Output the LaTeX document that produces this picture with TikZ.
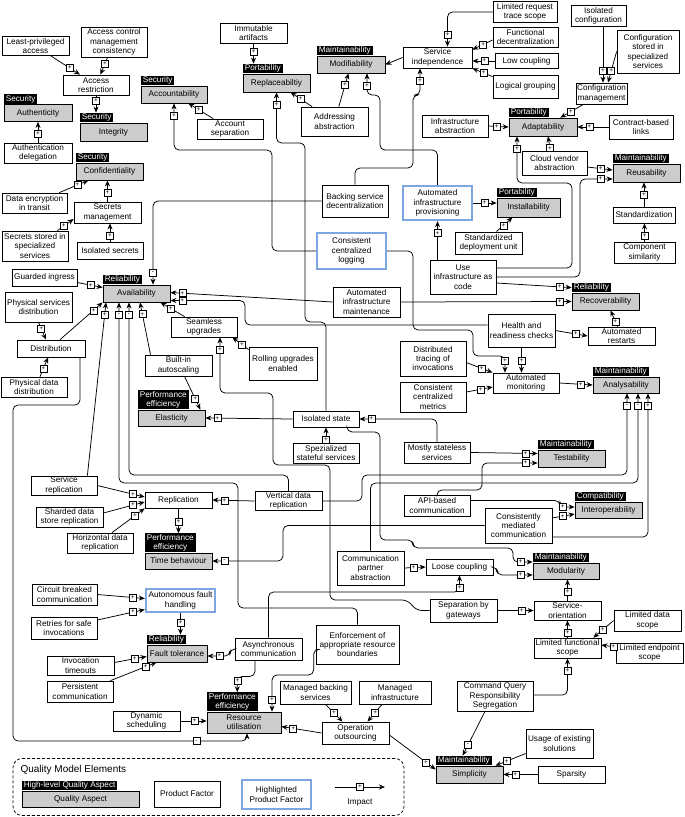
\documentclass[tikz,border=0pt]{standalone}
\usepackage{fontspec}
\setmainfont{Liberation Sans}
\usetikzlibrary{positioning,arrows.meta,decorations.markings}
\definecolor{qagray}{RGB}{204,204,204}
\definecolor{hlblue}{RGB}{126,166,224}

\begin{document}
\begin{tikzpicture}[x=1pt,y=-1pt,>=Stealth,font=\fontsize{8.2}{9.3}\selectfont,
  pf/.style={draw,fill=white,align=center,inner xsep=1pt,inner ysep=1pt,line width=0.75pt},
  hl/.style={pf,draw=hlblue,line width=2.4pt},
  qa/.style={draw,fill=qagray,align=center,inner xsep=1pt,inner ysep=1pt,line width=0.75pt},
  cat/.style={fill=black,text=white,align=center,inner xsep=2pt,inner ysep=1pt},
  imp/.style={draw,fill=white,solid,sharp corners,line width=0.5pt,inner sep=0pt,minimum size=7pt,font=\fontsize{6.5}{6.5}\selectfont},
  arr/.style={-{Stealth[length=6pt,width=5pt]},line width=0.75pt,rounded corners=5pt},
  plus/.style={arr,postaction={decorate,decoration={markings,mark=at position -#1 with {\node[imp]{+};}}}},
  plus/.default=12pt,
  minus/.style={arr,postaction={decorate,decoration={markings,mark=at position -#1 with {\node[imp]{-};}}}},
  minus/.default=12pt]
  \useasboundingbox (0,0) rectangle (685,817);

  % quality aspects
  \node[qa,minimum width=68pt,minimum height=17pt] (authent) at (38,113) {Authenticity};
  \node[cat,above right=0pt and 0pt of authent.north west] (authentc) {Security};
  \node[qa,minimum width=67pt,minimum height=18pt] (integ) at (113.5,132) {Integrity};
  \node[cat,above right=0pt and 0pt of integ.north west] (integc) {Security};
  \node[qa,minimum width=67pt,minimum height=17pt] (confid) at (109.5,171.5) {Confidentiality};
  \node[cat,above right=0pt and 0pt of confid.north west] (confidc) {Security};
  \node[qa,minimum width=66pt,minimum height=17pt] (accnt) at (174,94.5) {Accountability};
  \node[cat,above right=0pt and 0pt of accnt.north west] (accntc) {Security};
  \node[qa,minimum width=67pt,minimum height=18pt] (replb) at (276.5,83) {Replaceabiltiy};
  \node[cat,above right=0pt and 0pt of replb.north west] (replbc) {Portability};
  \node[qa,minimum width=68pt,minimum height=17pt] (modif) at (351,64.5) {Modifiability};
  \node[cat,above right=0pt and 0pt of modif.north west] (modifc) {Maintainability};
  \node[qa,minimum width=68pt,minimum height=18pt] (adapt) at (543,127) {Adaptability};
  \node[cat,above right=0pt and 0pt of adapt.north west] (adaptc) {Portability};
  \node[qa,minimum width=67pt,minimum height=18pt] (reus) at (646.5,173) {Reusability};
  \node[cat,above right=0pt and 0pt of reus.north west] (reusc) {Maintainability};
  \node[qa,minimum width=63pt,minimum height=19pt] (install) at (528.5,207.5) {Installability};
  \node[cat,above right=0pt and 0pt of install.north west] (installc) {Portability};
  \node[qa,minimum width=67pt,minimum height=17pt] (avail) at (136.5,293.5) {Availability};
  \node[cat,above right=0pt and 0pt of avail.north west] (availc) {Reliability};
  \node[qa,minimum width=67pt,minimum height=17pt] (recov) at (605.5,301.5) {Recoverability};
  \node[cat,above right=0pt and 0pt of recov.north west] (recovc) {Reliability};
  \node[qa,minimum width=66pt,minimum height=16pt] (analys) at (626,385) {Analysability};
  \node[cat,above right=0pt and 0pt of analys.north west] (analysc) {Maintainability};
  \node[qa,minimum width=67pt,minimum height=16pt] (elast) at (171.5,418) {Elasticity};
  \node[cat,above right=0pt and 0pt of elast.north west] (elastc) {Performance\\efficiency};
  \node[qa,minimum width=67pt,minimum height=17pt] (testab) at (571.5,458.5) {Testability};
  \node[cat,above right=0pt and 0pt of testab.north west] (testabc) {Maintainability};
  \node[qa,minimum width=67pt,minimum height=16pt] (interop) at (608.5,510) {Interoperability};
  \node[cat,above right=0pt and 0pt of interop.north west] (interopc) {Compatibility};
  \node[qa,minimum width=67pt,minimum height=16pt] (timeb) at (178.5,561) {Time behaviour};
  \node[cat,above right=0pt and 0pt of timeb.north west] (timebc) {Performance\\efficiency};
  \node[qa,minimum width=66pt,minimum height=16pt] (modul) at (566,571) {Modularity};
  \node[cat,above right=0pt and 0pt of modul.north west] (modulc) {Maintainability};
  \node[qa,minimum width=60pt,minimum height=17pt] (faultt) at (177,653.5) {Fault tolerance};
  \node[cat,above right=0pt and 0pt of faultt.north west] (faulttc) {Reliability};
  \node[qa,minimum width=74pt,minimum height=21pt] (resutil) at (244,722.5) {Resource\\utilisation};
  \node[cat,above right=0pt and 0pt of resutil.north west] (resutilc) {Performance\\efficiency};
  \node[qa,minimum width=67pt,minimum height=17pt] (simpl) at (469.5,774.5) {Simplicity};
  \node[cat,above right=0pt and 0pt of simpl.north west] (simplc) {Maintainability};

  % product factors
  \node[pf,minimum width=67pt,minimum height=19pt] (lpa) at (35.5,46) {Least-privileged\\access};
  \node[pf,minimum width=66pt,minimum height=30pt] (acmc) at (114,42) {Access control\\management\\consistency};
  \node[pf,minimum width=66pt,minimum height=20pt] (ares) at (96,85) {Access\\restriction};
  \node[pf,minimum width=68pt,minimum height=20pt] (authd) at (38,153) {Authentication\\delegation};
  \node[pf,minimum width=65pt,minimum height=20pt] (dencr) at (34.5,203) {Data encryption\\in transit};
  \node[pf,minimum width=67pt,minimum height=21pt] (secm) at (107.5,212.5) {Secrets\\management};
  \node[pf,minimum width=66pt,minimum height=30pt] (secst) at (35,246) {Secrets stored in\\specialized\\services};
  \node[pf,minimum width=66pt,minimum height=17pt] (isosec) at (110,250.5) {Isolated secrets};
  \node[pf,minimum width=66pt,minimum height=20pt] (accsep) at (230,129) {Account\\separation};
  \node[pf,minimum width=67pt,minimum height=20pt] (immart) at (253.5,33) {Immutable\\artifacts};
  \node[pf,minimum width=67pt,minimum height=29pt] (addabs) at (334.5,121.5) {Addressing\\abstraction};
  \node[pf,minimum width=69pt,minimum height=21pt] (servind) at (437.5,57.5) {Service\\independence};
  \node[pf,minimum width=64pt,minimum height=21pt] (lrts) at (525,12) {Limited request\\trace scope};
  \node[pf,minimum width=65pt,minimum height=20pt] (fdec) at (525.5,37) {Functional\\decentralization};
  \node[pf,minimum width=63pt,minimum height=15pt] (lowc) at (526.5,61) {Low coupling};
  \node[pf,minimum width=65pt,minimum height=23pt] (lgrp) at (525.5,86.5) {Logical grouping};
  \node[pf,minimum width=55pt,minimum height=21pt] (isocfg) at (598.5,16) {Isolated\\configuration};
  \node[pf,minimum width=62pt,minimum height=43pt] (cfgst) at (648,51.5) {Configuration\\stored in\\specialized\\services};
  \node[pf,minimum width=51pt,minimum height=21pt] (cfgm) at (601.5,93.5) {Configuration\\management};
  \node[pf,minimum width=66pt,minimum height=22pt] (infabs) at (455,126) {Infrastructure\\abstraction};
  \node[pf,minimum width=64pt,minimum height=24pt] (cbl) at (641,127) {Contract-based\\links};
  \node[pf,minimum width=65pt,minimum height=24pt] (cva) at (554.5,163) {Cloud vendor\\abstraction};
  \node[pf,minimum width=66pt,minimum height=32pt] (bsd) at (355,201) {Backing service\\decentralization};
  \node[hl,minimum width=69pt,minimum height=34pt] (aip) at (437.5,203) {Automated\\infrastructure\\provisioning};
  \node[hl,minimum width=69pt,minimum height=36pt] (ccl) at (351.5,251) {Consistent\\centralized\\logging};
  \node[pf,minimum width=67pt,minimum height=22pt] (sdu) at (488.5,243) {Standardized\\deployment unit};
  \node[pf,minimum width=62pt,minimum height=16pt] (stdz) at (644,215) {Standardization};
  \node[pf,minimum width=61pt,minimum height=21pt] (compsim) at (644.5,252.5) {Component\\similarity};
  \node[pf,minimum width=66pt,minimum height=34pt] (uic) at (463,277) {Use\\infrastructure as\\code};
  \node[pf,minimum width=65pt,minimum height=17pt] (gi) at (44.5,277.5) {Guarded ingress};
  \node[pf,minimum width=67pt,minimum height=30pt] (psd) at (38.5,307) {Physical services\\distribution};
  \node[pf,minimum width=68pt,minimum height=17pt] (distr) at (51,348.5) {Distribution};
  \node[pf,minimum width=66pt,minimum height=20pt] (pdd) at (34,387) {Physical data\\distribution};
  \node[pf,minimum width=66pt,minimum height=20pt] (seamu) at (204,327) {Seamless\\upgrades};
  \node[pf,minimum width=67pt,minimum height=21pt] (biauto) at (178.5,365.5) {Built-in\\autoscaling};
  \node[pf,minimum width=68pt,minimum height=33pt] (rue) at (283,363.5) {Rolling upgrades\\enabled};
  \node[pf,minimum width=67pt,minimum height=30pt] (aim) at (366.5,302) {Automated\\infrastructure\\maintenance};
  \node[pf,minimum width=67pt,minimum height=33pt] (hrc) at (521.5,330.5) {Health and\\readiness checks};
  \node[pf,minimum width=67pt,minimum height=18pt] (arest) at (621.5,336) {Automated\\restarts};
  \node[pf,minimum width=66pt,minimum height=35pt] (dti) at (433,358.5) {Distributed\\tracing of\\invocations};
  \node[pf,minimum width=66pt,minimum height=30pt] (ccm) at (433,397) {Consistent\\centralized\\metrics};
  \node[pf,minimum width=66pt,minimum height=20pt] (amon) at (526,383) {Automated\\monitoring};
  \node[pf,minimum width=66pt,minimum height=16pt] (isost) at (326,419) {Isolated state};
  \node[pf,minimum width=66pt,minimum height=20pt] (sss) at (326,453) {Spezialized\\stateful services};
  \node[pf,minimum width=66pt,minimum height=21pt] (mss) at (437,452.5) {Mostly stateless\\services};
  \node[pf,minimum width=66pt,minimum height=19pt] (srep) at (64,485.5) {Service\\replication};
  \node[pf,minimum width=67pt,minimum height=16pt] (repl) at (178.5,500) {Replication};
  \node[pf,minimum width=67pt,minimum height=20pt] (sdsr) at (69.5,517) {Sharded data\\store replication};
  \node[pf,minimum width=67pt,minimum height=18pt] (vdr) at (288.5,501) {Vertical data\\replication};
  \node[pf,minimum width=66pt,minimum height=20pt] (hdr) at (100,543) {Horizontal data\\replication};
  \node[pf,minimum width=66pt,minimum height=21pt] (apic) at (437,505.5) {API-based\\communication};
  \node[pf,minimum width=67pt,minimum height=35pt] (cmc) at (518.5,525.5) {Consistently\\mediated\\communication};
  \node[pf,minimum width=65pt,minimum height=21pt] (cba) at (64.5,594.5) {Circuit breaked\\communication};
  \node[hl,minimum width=69pt,minimum height=23pt] (afh) at (180.5,600.5) {Autonomous fault\\handling};
  \node[pf,minimum width=66pt,minimum height=22pt] (rsi) at (64,628) {Retries for safe\\invocations};
  \node[pf,minimum width=67pt,minimum height=34pt] (cpa) at (370.5,568) {Communication\\partner\\abstraction};
  \node[pf,minimum width=67pt,minimum height=16pt] (loosec) at (459.5,567) {Loose coupling};
  \node[pf,minimum width=67pt,minimum height=23pt] (sbg) at (463.5,610.5) {Separation by\\gateways};
  \node[pf,minimum width=67pt,minimum height=19pt] (sorient) at (567.5,610.5) {Service-\\orientation};
  \node[pf,minimum width=67pt,minimum height=21pt] (lds) at (647.5,620.5) {Limited data\\scope};
  \node[pf,minimum width=67pt,minimum height=20pt] (lfs) at (567.5,648) {Limited functional\\scope};
  \node[pf,minimum width=67pt,minimum height=20pt] (les) at (649.5,653) {Limited endpoint\\scope};
  \node[pf,minimum width=67pt,minimum height=19pt] (invt) at (80.5,665.5) {Invocation\\timeouts};
  \node[pf,minimum width=66pt,minimum height=21pt] (perc) at (80,691.5) {Persistent\\communication};
  \node[pf,minimum width=67pt,minimum height=22pt] (asyc) at (268.5,649) {Asynchronous\\communication};
  \node[pf,minimum width=83pt,minimum height=39pt] (earb) at (357.5,644.5) {Enforcement of\\appropriate resource\\boundaries};
  \node[pf,minimum width=71pt,minimum height=23pt] (mbs) at (315.5,692.5) {Managed backing\\services};
  \node[pf,minimum width=72pt,minimum height=23pt] (minf) at (395,692.5) {Managed\\infrastructure};
  \node[pf,minimum width=67pt,minimum height=20pt] (dynsch) at (146.5,721) {Dynamic\\scheduling};
  \node[pf,minimum width=67pt,minimum height=22pt] (opout) at (355.5,733) {Operation\\outsourcing};
  \node[pf,minimum width=76pt,minimum height=30pt] (cqrs) at (495,696) {Command Query\\Responsibility\\Segregation};
  \node[pf,minimum width=67pt,minimum height=29pt] (uoes) at (559.5,743.5) {Usage of existing\\solutions};
  \node[pf,minimum width=67pt,minimum height=17pt] (spars) at (571.5,774.5) {Sparsity};

  % security
  \draw[plus] (lpa) -- (ares);
  \draw[plus] (acmc) -- (ares);
  \draw[plus] (ares.south) -- (ares.south |- integc.north);
  \draw[plus] (authd.north) -- (authent.south);
  \draw[plus] (dencr) -- (confid);
  \draw[plus] (secm.north) -- (secm.north |- confid.south);
  \draw[plus] ([xshift=-11pt]secst.north east) -- ([yshift=-6.5pt]secm.west);
  \draw[plus] (isosec.north) -- (isosec.north |- secm.south);
  \draw[plus] (accsep) -- (accnt);
  \draw[plus] (ccl.west) -| (272,150) -| (accnt.south);

  % portability and maintainability, top
  \draw[plus] (immart.south) -- (immart.south |- replbc.north);
  \draw[plus] (addabs) -- (replb);
  \draw[plus] (addabs) -- (modif);
  \draw[arr] (servind.west) -- (modif.east);
  \draw[plus] (aip.north) |- (380,150) |- (367,95) -- ([xshift=16pt]modif.south);
  \draw[plus] (bsd.north) |- (413,168) |- (420,95) -- ([xshift=-17.5pt]servind.south);
  \draw[plus] (lrts.west) -| ([xshift=10pt]servind.north);
  \draw[plus] ([yshift=-3pt]fdec.west) -- ([yshift=-3pt]servind.north east);
  \draw[plus] (lowc.west) -- (lowc.west -| servind.east);
  \draw[plus] ([yshift=-2pt]lgrp.north west) -- (servind.south east);
  \draw[plus] ([xshift=4.5pt]isocfg.south) -- ([xshift=1.5pt]cfgm.north);
  \draw[plus] (cfgst.west) -- ([xshift=6.5pt]cfgm.north);
  \draw[plus] ([xshift=-18pt]cfgm.south) -- ([xshift=-17pt]adapt.north east);
  \draw[plus] (infabs.east) -- (adapt.west);
  \draw[plus] (cbl.west) -- (adapt.east);
  \draw[plus] ([xshift=-4pt]cva.north) -- ([xshift=5pt]adapt.south);
  \draw[plus] ([yshift=-4pt]cva.east) -- ([yshift=3pt]reus.west);
  \draw[plus] ([yshift=9pt]uic.east) -| (572,183) -| ([xshift=-26pt]adapt.south);
  \draw[plus] (uic.east) -| (580,179) -- ([yshift=-6pt]reus.west);
  \draw[plus] (aip.south |- uic.north) -- (aip.south);
  \draw[plus] (aip.east) -- (aip.east -| install.west);
  \draw[plus] ([xshift=8pt]sdu.north) -- ([xshift=-16pt]install.south);
  \draw[plus] (stdz.north) -- (stdz.north |- reus.south);
  \draw[plus] (compsim.north) -- (compsim.north |- stdz.south);

  % reliability and monitoring
  \draw[plus] ([yshift=-6pt]uic.east) -- (recovc.west);
  \draw[plus] (aim.east) -- (recov.west);
  \draw[plus] (aim.west) -- ([yshift=1pt]avail.east);
  \draw[plus] ([yshift=5.5pt]hrc.west) -| (245,300.5) -- ([yshift=-7pt]avail.east);
  \draw[plus] (hrc.east) -- (arest.west);
  \draw[plus] ([xshift=-4pt]arest.north) -- ([xshift=5pt]recov.south);
  \draw[plus] (hrc.south) -- (hrc.south |- amon.north);
  \draw[plus] (ccl.east) -| (413,330) -| (473,356) -| ([xshift=-21pt]amon.north);
  \draw[plus] ([yshift=-4pt]dti.east) -- (amon.north west);
  \draw[plus] ([yshift=5pt]ccm.east) -- ([yshift=-4pt]amon.west);
  \draw[plus] (amon.east) -- (analys.west);
  \draw[minus] (vdr.east) -| (362,475) -| ([xshift=1pt]analys.south);
  \draw[minus] (cpa.north) |- (638,483) -- ([xshift=12pt]analys.south);
  \draw[plus] ([yshift=-11.5pt]cmc.east) -| ([xshift=22pt]analys.south);

  % state and testability
  \draw[plus] (mss.east) -- ([yshift=5pt]testab.west);
  \draw[plus] (apic.north) |- (482,490) |- ([yshift=-4.5pt]testab.west);
  \draw[plus] (mss.north) |- (isost.east);
  \draw[plus] (sss.north) -- (isost.south);
  \draw[plus] (isost.west) -- (elast.east);
  \draw[plus] (isost.north) |- (305,322) |- (276.5,143) -- (replb.south);

  % availability
  \draw[minus] (bsd.west) -| ([xshift=16.5pt]avail.north);
  \draw[plus] ([xshift=-10pt]srep.north east) -- ([xshift=-30.5pt]avail.south);
  \draw[minus] (earb.north) |- (238,608) |- (119,483) -- ([xshift=-17.5pt]avail.south);
  \draw[minus] (vdr.north) |- (129,475) -- ([xshift=-7.5pt]avail.south);
  \draw[plus] ([xshift=-28pt]biauto.north) -- ([xshift=3.5pt]avail.south);
  \draw[plus] ([xshift=14pt]seamu.north west) -- ([xshift=-10pt]avail.south east);
  \draw[plus] ([yshift=-3pt]rue.north west) -- ([xshift=-5pt]seamu.south east);
  \draw[plus] (sbg.west) -- (417,610.5) -- (407,600) -| (330,465) -| (273,393) -| ([xshift=16pt]seamu.south);
  \draw[plus] ([xshift=9pt]distr.north) -- (avail.south west);
  \draw[plus] ([yshift=-5pt]gi.east) -- ([yshift=6pt]avail.west);
  \draw[plus] (psd.south) -- ([xshift=-5pt]distr.north);
  \draw[plus] ([xshift=6pt]pdd.north) -- ([xshift=-3pt]distr.south);
  \draw[minus=56pt] ([xshift=29pt]distr.south) |- (13,405) |- (247,741) -- ([xshift=3pt]resutil.south);
  \draw[plus] ([xshift=6pt]biauto.south) -- ([xshift=-5pt]elast.north east);

  % replication and time behaviour
  \draw[plus] (vdr.west) -- (repl.east);
  \draw[plus] (srep.east) -- ([yshift=3pt]repl.west);
  \draw[plus] ([yshift=4pt]sdsr.east) -- ([yshift=-2pt]repl.west);
  \draw[plus] ([xshift=12pt]hdr.north) -- (repl.south west);
  \draw[plus] (repl.south) -- (repl.south |- timebc.north);
  \draw[minus] (cmc.west) -| (283,561) -- (timeb.east);
  \draw[plus] ([yshift=5pt]apic.east) -| (560,507) -- ([yshift=3pt]interop.west);
  \draw[plus] ([yshift=7.5pt]cmc.east) -- ([yshift=-4pt]interop.west);

  % modularity and simplicity
  \draw[plus] (loosec.east) -| (497,575) -- ([yshift=-4pt]modul.west);
  \draw[plus] ([xshift=21pt]isost.south) |- (380,432) |- (413,540) |- (513,548) |- ([yshift=9pt]modul.west);
  \draw[plus] (cpa.east) -- (loosec.west);
  \draw[plus] (asyc.north) |- (459.5,592) -- (loosec.south);
  \draw[plus] (sbg.east) -- (sorient.west);
  \draw[plus] (sorient.north) -- (sorient.north |- modul.south);
  \draw[plus] (lfs.north) -- (sorient.south);
  \draw[plus] (lds.west) -- ([xshift=-8pt]lfs.north east);
  \draw[plus] ([yshift=6pt]les.west) -- ([yshift=3pt]lfs.east);
  \draw[plus] ([yshift=1pt]cqrs.east) -| (lfs.south);
  \draw[minus] ([xshift=-10pt]cqrs.south) -- ([xshift=27pt]simplc.north west);
  \draw[plus] ([yshift=-10pt]uoes.west) -- ([xshift=-8pt]simpl.north east);
  \draw[plus] (spars.west) -- (simpl.east);
  \draw[plus] ([yshift=-2pt]opout.east) -- ([yshift=5pt]simpl.west);

  % resource utilisation and fault tolerance
  \draw[plus] (opout.west) -- ([yshift=-4pt]resutil.east);
  \draw[plus] ([xshift=10pt]mbs.south) -- ([xshift=-13pt]opout.north);
  \draw[plus] ([xshift=-13pt]minf.south) -- ([xshift=12pt]opout.north);
  \draw[plus] (dynsch.east) -- (dynsch.east -| resutil.west);
  \draw[plus] ([xshift=-13.5pt]asyc.south) -- ++(0,16) -| ([xshift=5pt]resutilc.north);
  \draw[plus] ([yshift=-5pt]earb.west) -- ++(-2,0) |- (272,675) -- ([xshift=28pt]resutil.north);
  \draw[plus] (asyc.west) -| (230,656) -- ([yshift=-2.5pt]faultt.east);
  \draw[plus] (afh.south) -- (afh.south |- faulttc.north);
  \draw[plus] (cba.east) -- ([yshift=2pt]afh.west);
  \draw[plus] ([yshift=8pt]rsi.east) -- ([yshift=-9pt]afh.west);
  \draw[plus] ([yshift=3pt]invt.east) -- ([yshift=-3pt]faultt.west);
  \draw[plus] ([xshift=-3pt]perc.north east) -- ([xshift=10pt]faultt.south west);

  % legend
  \node[draw,dash pattern=on 3pt off 2pt,rounded corners=9pt,line width=0.75pt,minimum width=391pt,minimum height=57pt] (legend) at (208.5,787) {};
  \node[anchor=west,font=\fontsize{10}{12}\selectfont] (legtitle) at (17,769.5) {Quality Model Elements};
  \node[qa,minimum width=117pt,minimum height=16pt] (legqa) at (80.5,799) {Quality Aspect};
  \node[cat,above right=0pt and 0pt of legqa.north west] (legqac) {High-level Quality Aspect};
  \node[pf,minimum width=66pt,minimum height=26pt] (legpf) at (187,794) {Product Factor};
  \node[hl,minimum width=69pt,minimum height=29pt] (leghl) at (276.5,794.5) {Highlighted\\Product Factor};
  \coordinate (impA) at (335,787);
  \coordinate (impB) at (385,787);
  \draw[arr] (impA) -- node[imp]{+} (impB);
  \node (impT) at (360,803) {Impact};
\end{tikzpicture}
\end{document}
